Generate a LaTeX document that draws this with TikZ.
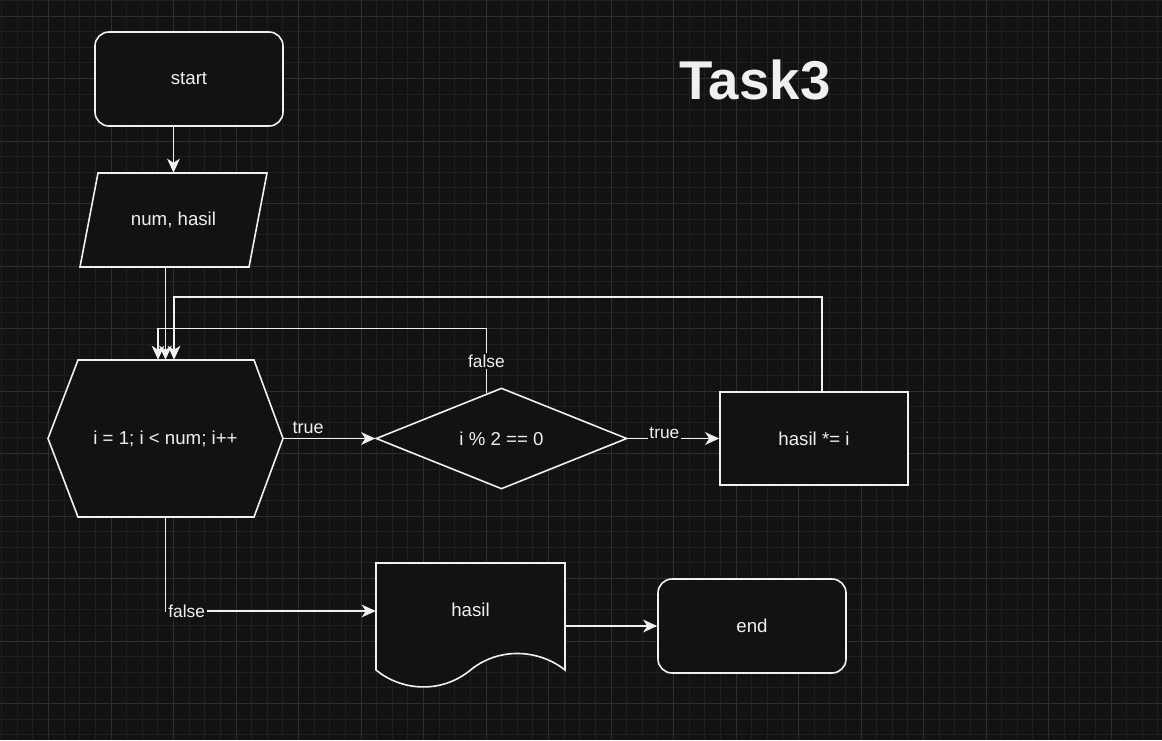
\documentclass[tikz,border=0pt]{standalone}
\usepackage{fontspec}
\setmainfont{Liberation Sans}
\usetikzlibrary{shapes.geometric, arrows.meta, calc}

\definecolor{canvas}{HTML}{121212}
\definecolor{ink}{HTML}{F0F0F0}
\definecolor{minorgrid}{HTML}{1F1F1F}
\definecolor{majorgrid}{HTML}{2E2E2E}

\tikzset{
	terminal/.style={draw=ink, fill=canvas, line width=1.2pt, rounded corners=10.5pt,
		minimum width=141pt, minimum height=70.5pt, text=ink, font=\fontsize{14}{16}\selectfont},
	process/.style={draw=ink, fill=canvas, line width=1.2pt,
		minimum width=141pt, minimum height=69.75pt, text=ink, font=\fontsize{14}{16}\selectfont},
	decision/.style={shape=diamond, aspect=2.5, draw=ink, fill=canvas, line width=1.2pt,
		minimum width=188.25pt, minimum height=75.75pt, text=ink, font=\fontsize{14}{16}\selectfont},
	textbox/.style={inner sep=0pt, text=ink, font=\fontsize{14}{16}\selectfont},
	outline/.style={draw=ink, fill=canvas, line width=1.2pt},
	flow/.style={draw=ink, line width=1.2pt, -{Stealth[length=10.5pt, width=9.5pt, inset=3pt]}},
	edgelabel/.style={text=ink, fill=canvas, inner sep=1pt, font=\fontsize{13}{15}\selectfont},
}

\begin{document}
\begin{tikzpicture}[x=0.75pt, y=-0.75pt]
	% canvas and grid
	\fill[canvas] (0,0) rectangle (1162,740);
	\useasboundingbox (0,0) rectangle (1162,740);
	\foreach \i in {0,...,74}
		\draw[minorgrid, line width=0.6pt] (1.625+15.625*\i,0) -- (1.625+15.625*\i,740);
	\foreach \i in {0,...,47}
		\draw[minorgrid, line width=0.6pt] (0,0.375+15.625*\i) -- (1162,0.375+15.625*\i);
	\foreach \i in {0,...,17}
		\draw[majorgrid, line width=0.6pt] (48.5+62.5*\i,0) -- (48.5+62.5*\i,740);
	\foreach \i in {0,...,11}
		\draw[majorgrid, line width=0.6pt] (0,16+62.5*\i) -- (1162,16+62.5*\i);

	% title
	\node[text=ink, font=\bfseries\fontsize{41}{46}\selectfont] (title) at (755,80) {Task3};

	% outlines of the drawn shapes
	\draw[outline] (80,267) -- (98,173) -- (267,173) -- (249,267) -- cycle; % input
	\draw[outline] (48,438.5) -- (78,360) -- (254,360) -- (283,438.5) -- (254,517) -- (78,517) -- cycle; % loop
	\draw[outline] (376,670) -- (376,563) -- (565,563) -- (565,670)
		.. controls (540,650) and (500,646) .. (470.5,670)
		.. controls (440,695) and (400,690) .. (376,670) -- cycle; % output

	% nodes
	\node[terminal] (start) at (189,79) {start};
	\node[textbox, minimum width=140.25pt, minimum height=70.5pt] (input) at (173.5,220) {num, hasil};
	\node[textbox, minimum width=176.25pt, minimum height=117.75pt] (loop) at (165.5,438.5) {i = 1; i < num; i++};
	\node[decision] (cond) at (501.5,438.5) {i \% 2 == 0};
	\node[process] (mult) at (814,438.5) {hasil *= i};
	\node[textbox, minimum width=141.75pt, minimum height=72pt] (output) at (470.5,611) {\raisebox{2.5pt}{hasil}};
	\node[terminal] (end) at (752,626) {end};

	% connectors
	\draw[flow] (start.south -| input.north) -- (input.north);
	\draw[flow] (input.south -| loop.north) -- (loop.north);
	\draw[flow] (loop.east) -- node[pos=0.27, above, text=ink, font=\fontsize{13.5}{15}\selectfont] {true} (cond.west);
	\draw[flow] (cond.east) -- node[edgelabel, pos=0.4, yshift=4pt] {true} (mult.west);
	\draw[flow] ($(cond.north)!0.12!(cond.west)$) -- node[edgelabel, pos=0.5] {false} ++(0,-65)
		-| ([xshift=-5.6pt]loop.north);
	\draw[flow] ([xshift=6pt]mult.north) -- ++(0,-94) -| ([xshift=6.4pt]loop.north);
	\draw[flow] (loop.south) |- node[edgelabel, pos=0.5, anchor=west, inner sep=1.5pt] {false} (output.west);
	\draw[flow] (output.east |- end.west) -- (end.west);
\end{tikzpicture}
\end{document}
